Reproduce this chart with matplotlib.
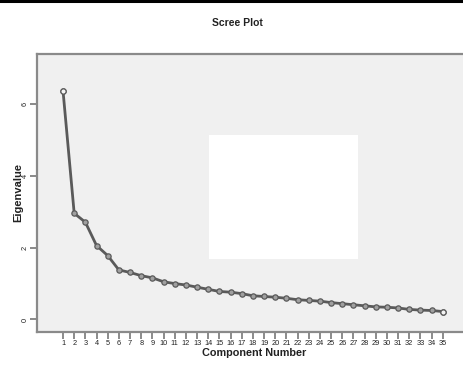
"""Scree plot: eigenvalue per component."""

import matplotlib
matplotlib.use("Agg")
import matplotlib.pyplot as plt
from matplotlib.patches import Rectangle
from matplotlib.lines import Line2D

components = list(range(1, 36))
eigenvalues = [
    6.37, 2.96, 2.71, 2.06, 1.78, 1.38, 1.31, 1.22, 1.16, 1.05,
    1.00, 0.96, 0.90, 0.84, 0.78, 0.76, 0.72, 0.66, 0.64, 0.62,
    0.59, 0.55, 0.53, 0.51, 0.47, 0.44, 0.41, 0.38, 0.35, 0.34,
    0.32, 0.28, 0.26, 0.25, 0.22,
]
y_ticks = [0, 2, 4, 6]

TITLE = "Scree Plot"
XLABEL = "Component Number"
YLABEL = "Eigenvalue"

plt.rcParams["font.family"] = ["Liberation Sans", "DejaVu Sans"]

W, H = 464, 369
fig = plt.figure(figsize=(W / 100, H / 100), dpi=100)
fig.patch.set_facecolor("white")

ax = fig.add_axes([37 / W, 1 - 332 / H, 1 - 37 / W, (332 - 54) / H])
ax.set_facecolor("#f0f0f0")
ax.set_xlim(-1.33, 36.9)
ax.set_ylim(-0.35, 7.4)

ax.plot(components, eigenvalues, color="#5a5a5a", lw=2.0,
        marker="o", ms=3.8, mfc="#a0a0a0", mec="#5a5a5a", mew=0.9, zorder=3)
ends = [0, len(components) - 1]
ax.plot([components[i] for i in ends], [eigenvalues[i] for i in ends],
        ls="none", marker="o", ms=3.8, mfc="#f4f4f4", mec="#5a5a5a", mew=0.9, zorder=4)

ax.set_xticks(components)
ax.set_xticklabels([str(c) for c in components], fontsize=5.3, color="#222222")
ax.set_yticks(y_ticks)
ax.set_yticklabels([str(v) for v in y_ticks], fontsize=5.3, color="#222222",
                   rotation=90, va="center")
ax.tick_params(axis="x", length=5, width=1.2, color="#777777", pad=1)
ax.tick_params(axis="y", length=5, width=1.2, color="#777777", pad=1)

for side in ["left", "bottom", "top"]:
    ax.spines[side].set_color("#8a8a8a")
    ax.spines[side].set_linewidth(1.6)
ax.spines["right"].set_visible(False)

# white box covering part of the plot
fig.add_artist(Rectangle((209 / W, 1 - 259 / H), 149 / W, 124 / H,
                         transform=fig.transFigure, facecolor="white",
                         edgecolor="none", zorder=5))

# black rule along the top edge
fig.add_artist(Line2D([0, 1], [1 - 1.3 / H, 1 - 1.3 / H], transform=fig.transFigure,
                      color="black", lw=2.2))

fig.text(237 / W, 1 - 23 / H, TITLE, ha="center", va="center",
         fontsize=7.5, fontweight="bold", color="#222222")
fig.text(254 / W, 1 - 353 / H, XLABEL, ha="center", va="center",
         fontsize=7.8, fontweight="bold", color="#222222")
fig.text(18 / W, 1 - 193 / H, YLABEL, ha="center", va="center", rotation=90,
         fontsize=8, fontweight="bold", color="#222222")

fig.savefig("out.png", dpi=100)
